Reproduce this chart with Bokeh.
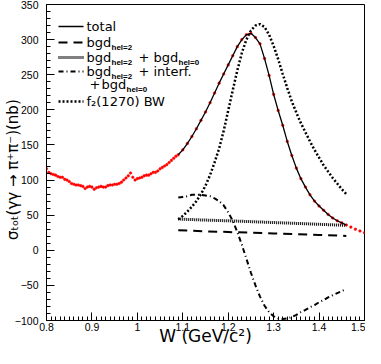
from bokeh.plotting import figure
from bokeh.models import Range1d, FixedTicker, Label, Arrow
from bokeh.embed import file_html
from bokeh.resources import INLINE

# ---- measured data points (red) ----
w_pts = [0.800, 0.805, 0.810, 0.815, 0.820, 0.825, 0.830, 0.835, 0.840, 0.845,
         0.850, 0.855, 0.860, 0.865, 0.870, 0.875, 0.880, 0.885, 0.890, 0.895,
         0.900, 0.905, 0.910, 0.915, 0.920, 0.925, 0.930, 0.935, 0.940, 0.945,
         0.950, 0.955, 0.960, 0.965, 0.970, 0.975, 0.980, 0.985, 0.990, 0.995,
         1.000, 1.005, 1.010, 1.015, 1.020, 1.025, 1.030, 1.035, 1.040, 1.045,
         1.050, 1.055, 1.060, 1.065, 1.070, 1.075, 1.080, 1.085,
         1.09, 1.10, 1.11, 1.12, 1.13, 1.14, 1.15, 1.16, 1.17, 1.18, 1.19,
         1.20, 1.21, 1.22, 1.23, 1.24, 1.25, 1.26, 1.27, 1.28, 1.29,
         1.30, 1.31, 1.32, 1.33, 1.34, 1.35, 1.36, 1.37, 1.38, 1.39,
         1.40, 1.41, 1.42, 1.43, 1.44, 1.45, 1.46, 1.47, 1.48, 1.49, 1.50]
sigma_pts = [116, 111, 109, 108, 107, 105, 104, 104, 101, 100,
             98, 95, 94, 93, 93, 92, 91, 88, 90, 91,
             90, 87, 89, 90, 91, 90, 90, 92, 93, 93,
             94, 94, 95, 97, 100, 103, 106, 110, 104, 100,
             102, 103, 104, 106, 107, 107, 109, 111, 111, 113,
             116, 118, 120, 122, 125, 128, 131, 134,
             136, 143, 152, 162, 173, 185, 197, 210, 224, 238, 251,
             264, 277, 290, 300, 307, 309, 303, 294, 273, 249,
             222, 199, 178, 155, 135, 117, 102, 90, 79, 70,
             63, 57, 51, 46, 42, 39, 36, 33, 30, 27.5, 25]

# ---- fit curves ----
w_fit = [1.09, 1.10, 1.11, 1.12, 1.13, 1.14, 1.15, 1.16, 1.17, 1.18, 1.19,
         1.20, 1.21, 1.22, 1.23, 1.24, 1.25, 1.26, 1.27, 1.28, 1.29,
         1.30, 1.31, 1.32, 1.33, 1.34, 1.35, 1.36, 1.37, 1.38, 1.39,
         1.40, 1.41, 1.42, 1.43, 1.44, 1.45, 1.46]
total = [136, 143, 152, 162, 173, 185, 197, 210, 224, 238, 251,
         264, 277, 290, 300, 307, 309, 303, 294, 273, 249,
         222, 199, 178, 155, 135, 117, 102, 90, 79, 70,
         63, 57, 51, 46, 42, 39, 36]
f2_bw = [44, 49, 55, 62, 70, 80, 92, 107, 125, 145, 170,
         199, 228, 256, 281, 300, 313, 320, 322, 318, 307,
         291, 272, 251, 231, 212, 196, 181, 168, 155, 143,
         132, 121, 112, 103, 95, 87, 80]
interf = [75, 76, 77, 79, 79, 79, 78, 77, 74, 70,
          64, 54, 42, 26, 8, -12, -32, -50, -66, -79,
          -88, -94, -97, -98, -97, -95, -92, -88, -85, -81,
          -78, -74, -71, -67, -64, -61, -58, -55]
w_bgd = [1.09, 1.15, 1.20, 1.25, 1.30, 1.35, 1.40, 1.46]
bgd_hel2 = [28.5, 27.0, 26.0, 25.0, 24.0, 23.0, 21.8, 20.5]
bgd_sum = [44.5, 43.0, 42.0, 40.8, 39.5, 38.3, 37.0, 35.5]

# ---- axes ----
x_ticks = [0.8, 0.9, 1.0, 1.1, 1.2, 1.3, 1.4, 1.5]
x_tick_labels = ["0.8", "0.9", "1", "1.1", "1.2", "1.3", "1.4", "1.5"]
y_ticks = [-100, -50, 0, 50, 100, 150, 200, 250, 300, 350]
y_tick_labels = ["\u2212100", "\u221250", "0", "50", "100", "150", "200", "250", "300", "350"]

x_title = "W (GeV/c\u00b2)"
y_title = "\u03c3\u209c\u2092\u209c(\u03b3\u03b3 \u2192 \u03c0\u207a\u03c0\u207b)(nb)\u00a0\u00a0\u00a0"

p = figure(width=365, height=348, x_range=Range1d(0.8, 1.5), y_range=Range1d(-100, 350),
           output_backend="svg", toolbar_location=None,
           min_border_left=0, min_border_right=1, min_border_top=4, min_border_bottom=0)
p.grid.visible = False
p.outline_line_color = "black"
p.outline_line_width = 1
p.background_fill_color = "white"
p.border_fill_color = "white"

x_minor = [round(0.8 + 0.01 * i, 2) for i in range(71)]
y_minor = [-100 + 10 * i for i in range(46)]
p.xaxis.ticker = FixedTicker(ticks=x_ticks, minor_ticks=x_minor)
p.yaxis.ticker = FixedTicker(ticks=y_ticks, minor_ticks=y_minor)
p.xaxis.major_label_overrides = dict(zip(x_ticks, x_tick_labels))
p.yaxis.major_label_overrides = dict(zip(y_ticks, y_tick_labels))
for ax in (p.xaxis, p.yaxis):
    ax.major_tick_in = 8
    ax.major_tick_out = 0
    ax.minor_tick_in = 4
    ax.minor_tick_out = 0
    ax.axis_line_color = "black"
    ax.major_tick_line_color = "black"
    ax.minor_tick_line_color = "black"
    ax.major_label_text_font = "Liberation Sans"
    ax.major_label_text_font_size = "10.5px"
    ax.major_label_text_color = "black"
    ax.axis_label_text_font = "DejaVu Sans"
    ax.axis_label_text_font_style = "normal"
    ax.axis_label_text_color = "black"
p.xaxis.major_label_standoff = 2
p.yaxis.major_label_standoff = 8
p.xaxis.axis_label = x_title
p.xaxis.axis_label_text_font_size = "17px"
p.xaxis.axis_label_standoff = -8
p.yaxis.axis_label = y_title
p.yaxis.axis_label_text_font_size = "15px"
p.yaxis.axis_label_standoff = -10

# ---- glyphs ----
p.line(w_bgd, bgd_hel2, line_color="black", line_width=2, line_dash="9 6")
p.line(w_bgd, bgd_sum, line_color="black", line_width=3, line_dash="1 1")
p.line(w_fit, interf, line_color="black", line_width=2, line_dash="5 3 1 3")
p.line(w_fit, f2_bw, line_color="black", line_width=2.5, line_dash="2 2")
p.scatter(w_pts, sigma_pts, marker="circle", size=2.6, fill_color="red", line_color="red", line_width=0.5)
p.line(w_fit, total, line_color="black", line_width=1.3)

# ---- legend (hand built, screen units relative to frame) ----
FONT = "DejaVu Sans"
def txt(x, y, s, size="13px", bold=False):
    p.add_layout(Label(x=x, y=y, x_units="screen", y_units="screen", text=s,
                       text_font=FONT if not bold else "Liberation Sans",
                       text_font_size=size, text_font_style="bold" if bold else "normal",
                       text_baseline="middle", text_align="left", text_color="black"))

def sample(y, dash, width):
    p.add_layout(Arrow(x_start=12, y_start=y, x_end=37, y_end=y, start_units="screen",
                       end_units="screen", start=None, end=None, line_color="black",
                       line_width=width, line_dash=dash))

rows = [294, 278, 263, 249, 236, 219]
sample(rows[0], "solid", 1.3)
txt(40, rows[0], "total")
sample(rows[1], "9 6", 2)
txt(40, rows[1], "bgd"); txt(65, rows[1] - 5, "hel=2", "8px", True)
sample(rows[2], "1 1", 3)
txt(40, rows[2], "bgd"); txt(65, rows[2] - 5, "hel=2", "8px", True)
txt(92, rows[2], "+"); txt(107, rows[2], "bgd"); txt(132, rows[2] - 5, "hel=0", "8px", True)
sample(rows[3], "5 3 1 3", 2)
txt(40, rows[3], "bgd"); txt(65, rows[3] - 5, "hel=2", "8px", True)
txt(92, rows[3], "+"); txt(107, rows[3], "interf.")
txt(43, rows[4], "+"); txt(55, rows[4], "bgd"); txt(80, rows[4] - 5, "hel=0", "8px", True)
sample(rows[5], "2 2", 2.5)
txt(40, rows[5], "f\u2082(1270) BW")

open("out.html", "w").write(file_html(p, INLINE))
